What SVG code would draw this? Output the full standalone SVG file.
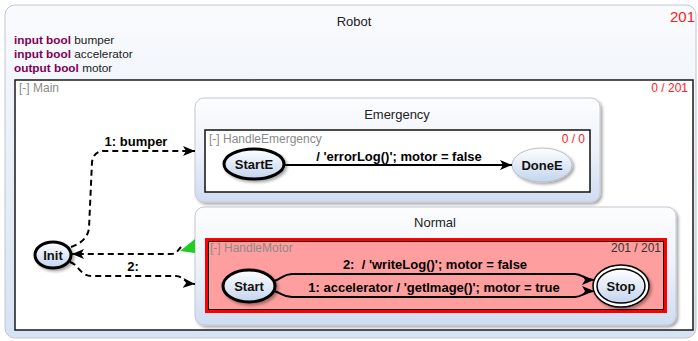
<svg xmlns="http://www.w3.org/2000/svg" width="698" height="341" viewBox="0 0 698 341">
<defs>
<linearGradient id="outerGrad" x1="0" y1="0" x2="0" y2="1">
<stop offset="0" stop-color="#fafbfd"/><stop offset="1" stop-color="#d6e3f4"/>
</linearGradient>
<linearGradient id="boxGrad" x1="0" y1="0" x2="0" y2="1">
<stop offset="0" stop-color="#fdfdfe"/><stop offset="0.5" stop-color="#eef2f9"/><stop offset="1" stop-color="#cfdcf1"/>
</linearGradient>
<linearGradient id="nodeGrad" x1="0" y1="0" x2="0" y2="1">
<stop offset="0" stop-color="#ffffff"/><stop offset="1" stop-color="#c3d4ee"/>
</linearGradient>
<filter id="shadow" x="-10%" y="-10%" width="130%" height="140%">
<feGaussianBlur in="SourceAlpha" stdDeviation="1.5"/>
<feOffset dx="2" dy="2" result="b"/>
<feComponentTransfer><feFuncA type="linear" slope="0.35"/></feComponentTransfer>
<feMerge><feMergeNode/><feMergeNode in="SourceGraphic"/></feMerge>
</filter>
<marker id="arrow" markerUnits="userSpaceOnUse" markerWidth="14" markerHeight="12" refX="12" refY="6" orient="auto">
<path d="M0,1 L12,6 L0,11 L3,6 Z" fill="#000"/>
</marker>
</defs>
<style>
text { font-family: "Liberation Sans", Arial, sans-serif; white-space: pre; }
.title { font-size: 13px; fill: #222; text-anchor: middle; }
.decl { font-size: 11.8px; fill: #222; }
.kw { font-weight: bold; fill: #7f0055; }
.region { font-size: 12px; fill: #8a8a8a; }
.count { font-size: 12px; fill: #ff2020; text-anchor: end; }
.countDark { font-size: 12px; fill: #333; text-anchor: end; }
.state { fill: url(#boxGrad); stroke: #c4c8d0; stroke-width: 1; }
.node { fill: url(#nodeGrad); stroke: #000; stroke-width: 3; }
.nodeLabel { font-size: 13px; font-weight: bold; fill: #111; text-anchor: middle; }
.label { font-size: 13px; font-weight: bold; fill: #000; text-anchor: middle; }
.edge { fill: none; stroke: #000; stroke-width: 2; }
.dashed { fill: none; stroke: #000; stroke-width: 2; stroke-dasharray: 6 4; }
</style>

<g id="Robot">
<rect x="5" y="5" width="691" height="333" rx="10" fill="url(#outerGrad)" stroke="#c2c6ce" stroke-width="1"/>
<text class="title" x="354" y="26">Robot</text>
<text x="695" y="22" font-size="15" fill="#ff2020" text-anchor="end">201</text>
<text class="decl" x="14" y="44"><tspan class="kw">input bool</tspan> bumper</text>
<text class="decl" x="14" y="58"><tspan class="kw">input bool</tspan> accelerator</text>
<text class="decl" x="14" y="72"><tspan class="kw">output bool</tspan> motor</text>
</g>

<g id="Main">
<rect x="15" y="80" width="678" height="250" fill="#fff" stroke="#1a1a1a" stroke-width="1.5"/>
<text class="region" x="19" y="92">[-] Main</text>
<text class="count" x="688" y="92">0 / 201</text>
</g>

<g id="Emergency">
<rect x="195" y="98" width="405" height="104" rx="9" class="state" filter="url(#shadow)"/>
<text class="title" x="397" y="119">Emergency</text>
<rect x="205" y="130" width="385" height="62" fill="#fff" stroke="#111" stroke-width="1.5"/>
<text class="region" x="209" y="143">[-] HandleEmergency</text>
<text class="count" x="585" y="143">0 / 0</text>
</g>

<g id="Normal">
<rect x="195" y="207" width="481" height="118" rx="9" class="state" filter="url(#shadow)"/>
<text class="title" x="435" y="227">Normal</text>
<rect x="206.5" y="239.5" width="459" height="72" fill="#ff9e9e" stroke="#ff0000" stroke-width="3"/>
<rect x="208.5" y="241.5" width="455" height="68" fill="none" stroke="#000" stroke-width="1"/>
<text class="region" x="210" y="252">[-] HandleMotor</text>
<text class="countDark" x="661" y="252">201 / 201</text>
</g>

<g id="Init">
<ellipse cx="53" cy="255" rx="18" ry="13" class="node" filter="url(#shadow)"/>
<text class="nodeLabel" x="53" y="260">Init</text>
</g>

<g id="StartE">
<ellipse cx="254" cy="164" rx="30" ry="15" class="node" filter="url(#shadow)"/>
<text class="nodeLabel" x="254" y="169">StartE</text>
</g>

<g id="DoneE">
<ellipse cx="542" cy="165" rx="30" ry="17" fill="url(#nodeGrad)" stroke="#b8bcc4" stroke-width="1" filter="url(#shadow)"/>
<text class="nodeLabel" x="542" y="170">DoneE</text>
</g>

<g id="Start">
<ellipse cx="249" cy="286" rx="26" ry="16" class="node" filter="url(#shadow)"/>
<text class="nodeLabel" x="249" y="291">Start</text>
</g>

<g id="Stop">
<ellipse cx="621" cy="286" rx="28" ry="21" fill="#fff" stroke="#000" stroke-width="1.5" filter="url(#shadow)"/>
<ellipse cx="621" cy="286" rx="24" ry="17" fill="url(#nodeGrad)" stroke="#000" stroke-width="1.5"/>
<text class="nodeLabel" x="621" y="291">Stop</text>
</g>

<g id="connectors">
<path class="dashed" d="M71 247 C80 244 88 238 89 228 L92 162 C93 155 97 151 104 151 L195 151" marker-end="url(#arrow)"/>
<text class="label" x="136" y="146">1: bumper</text>
<path class="dashed" d="M181 247 C178 250 177 254 171 254 L72 254" marker-end="url(#arrow)"/>
<polygon points="180,251 195,239 195,253" fill="#22cc22"/>
<path class="dashed" d="M70 262 C79 265 80 276 92 276 L176 276 C183 276 184 283 195 284" marker-end="url(#arrow)"/>
<text class="label" x="133" y="271">2:</text>
<path class="edge" d="M284 165 L512 165" marker-end="url(#arrow)"/>
<text class="label" x="399" y="161">/ 'errorLog()'; motor = false</text>
<path class="edge" d="M274 281 C282 279 283 274 292 274 L575 274 C583 274 584 280 594 280" marker-end="url(#arrow)"/>
<text class="label" x="435" y="269">2:  / 'writeLog()'; motor = false</text>
<path class="edge" d="M274 291 C282 293 283 297 292 297 L575 297 C583 297 584 291 594 291" marker-end="url(#arrow)"/>
<text class="label" x="434" y="292">1: accelerator / 'getImage()'; motor = true</text>
</g>
</svg>
